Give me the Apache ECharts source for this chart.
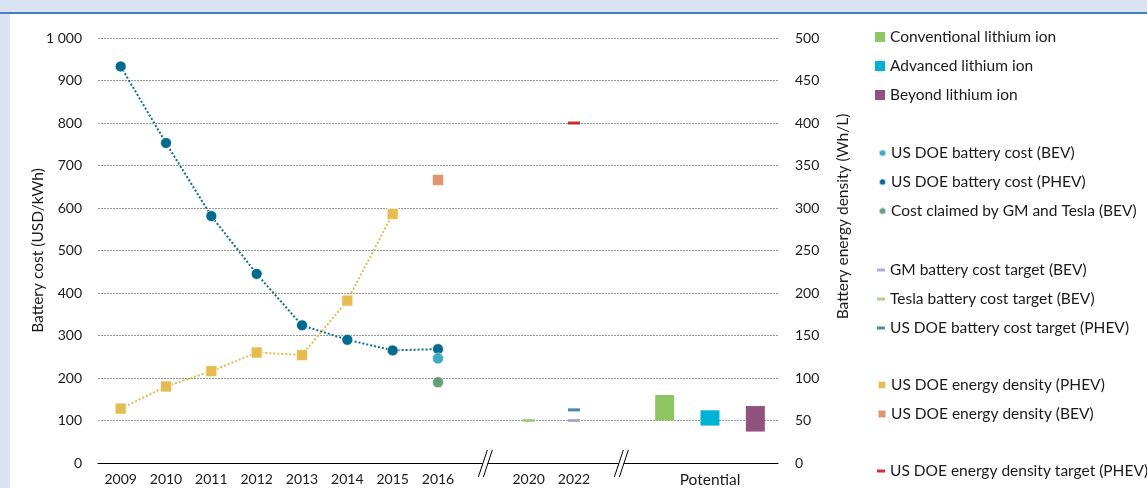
<!DOCTYPE html>
<html><head><meta charset="utf-8">
<script src="https://cdn.jsdelivr.net/npm/echarts@6/dist/echarts.min.js"></script>
<style>
html,body{margin:0;padding:0;background:#fff;width:1147px;height:488px;overflow:hidden;}
#topstrip{position:absolute;left:0;top:0;width:1147px;height:12px;background:#dae3f3;}
#topline{position:absolute;left:0;top:12px;width:1147px;height:2px;background:#4a7ebb;}
#leftstrip{position:absolute;left:0;top:14px;width:10px;height:474px;background:#dae3f3;}
#chart{position:absolute;left:0;top:0;width:1147px;height:488px;}
</style></head>
<body>
<div id="topstrip"></div><div id="topline"></div><div id="leftstrip"></div>
<div id="chart"></div>
<script>
// ---- data ----
const categories = ['2009','2010','2011','2012','2013','2014','2015','2016','','2020','2022','','','Potential',''];
const costPHEV = [933, 753, 581, 445, 324, 290, 265, 268];          // 2009..2016, USD/kWh
const costBEV = [['2016', 246]];
const costGMTesla = [['2016', 190]];
const targetGM = [['2022', 100]];
const targetTesla = [['2020', 100]];
const targetDOEPHEV = [['2022', 125]];
const densityPHEV = [64, 90, 108, 130, 127, 191, 293];               // 2009..2015, Wh/L
const densityBEV = [['2016', 333]];
const densityTarget = [['2022', 400]];
const potentialNames = ['Conventional lithium ion', 'Advanced lithium ion', 'Beyond lithium ion'];
const potentialIndex = [12, 13, 14];
const potentialLow = [100, 88, 74];
const potentialHigh = [160, 124, 134];
const breakIndex = [8, 11];
const leftTicks = { min: 0, max: 1000, interval: 100 };
const rightTicks = { min: 0, max: 500, interval: 50 };

// ---- build ----
const FONT = 'Lato';
const TXT = '#1a1a1a';
const TS = 15.5;   // text size for words
const NS = 14;     // text size for numbers
const potColors = ['#8dc663', '#00b2d4', '#915280'];

function fmtThousands(v) { return String(v).replace(/\B(?=(\d{3})+(?!\d))/g, ' '); }

const baseData = categories.map(() => '-');
potentialIndex.forEach((ci, k) => { baseData[ci] = potentialLow[k]; });
const potSeries = potentialNames.map((name, k) => {
  const d = categories.map(() => '-');
  d[potentialIndex[k]] = potentialHigh[k] - potentialLow[k];
  return { name, type: 'bar', stack: 'pot', barWidth: 19, data: d,
           itemStyle: { color: potColors[k] }, z: 3 };
});

const circleStyle = c => ({ color: c, borderColor: 'rgba(255,255,255,0.7)', borderWidth: 1 });

const series = [
  { name: 'base', type: 'bar', stack: 'pot', barWidth: 19, data: baseData,
    itemStyle: { color: 'transparent' }, silent: true },
  ...potSeries,
  { name: 'US DOE battery cost (PHEV)', type: 'line', data: costPHEV,
    symbol: 'circle', symbolSize: 11, itemStyle: circleStyle('#006a8f'),
    lineStyle: { color: '#0a6f93', width: 2, type: [2, 2] }, z: 5 },
  { name: 'US DOE battery cost (BEV)', type: 'scatter', data: costBEV,
    symbol: 'circle', symbolSize: 11, itemStyle: circleStyle('#0e96b0'), z: 6 },
  { name: 'Cost claimed by GM and Tesla (BEV)', type: 'scatter', data: costGMTesla,
    symbol: 'circle', symbolSize: 11, itemStyle: circleStyle('#3f8a53'), z: 6 },
  { name: 'GM battery cost target (BEV)', type: 'scatter', data: targetGM,
    symbol: 'rect', symbolSize: [12, 3], itemStyle: { color: '#9d98c9' }, z: 6 },
  { name: 'Tesla battery cost target (BEV)', type: 'scatter', data: targetTesla,
    symbol: 'rect', symbolSize: [12, 3], itemStyle: { color: '#8dcc6b' }, z: 6 },
  { name: 'US DOE battery cost target (PHEV)', type: 'scatter', data: targetDOEPHEV,
    symbol: 'rect', symbolSize: [12, 3], itemStyle: { color: '#1b6c91' }, z: 6 },
  { name: 'US DOE energy density (PHEV)', type: 'line', yAxisIndex: 1, data: densityPHEV,
    symbol: 'rect', symbolSize: 11, itemStyle: { color: '#e6bb4f', borderColor: 'rgba(255,255,255,0.7)', borderWidth: 1 },
    lineStyle: { color: '#e6bb4f', width: 2, type: [2, 2] }, z: 5 },
  { name: 'US DOE energy density (BEV)', type: 'scatter', yAxisIndex: 1, data: densityBEV,
    symbol: 'rect', symbolSize: 11, itemStyle: { color: '#d97b47', borderColor: 'rgba(255,255,255,0.7)', borderWidth: 1 }, z: 6 },
  { name: 'US DOE energy density target (PHEV)', type: 'scatter', yAxisIndex: 1, data: densityTarget,
    symbol: 'rect', symbolSize: [12, 3], itemStyle: { color: '#c00000' }, z: 6 },
  { name: 'axisBreak', type: 'custom', silent: true, clip: false, z: 10,
    data: breakIndex.map(i => [i, 0]), encode: { x: 0, y: 1 },
    renderItem: function (params, api) {
      const p = api.coord([api.value(0), api.value(1)]);
      const x = p[0] + 2, y = p[1];
      const a1 = [x - 7, y + 14], b1 = [x + 2, y - 13];
      const a2 = [x - 2, y + 14], b2 = [x + 7, y - 13];
      return { type: 'group', children: [
        { type: 'polygon', shape: { points: [a1, b1, b2, a2] }, style: { fill: '#fff' } },
        { type: 'line', shape: { x1: a1[0], y1: a1[1], x2: b1[0], y2: b1[1] }, style: { stroke: '#000', lineWidth: 1 } },
        { type: 'line', shape: { x1: a2[0], y1: a2[1], x2: b2[0], y2: b2[1] }, style: { stroke: '#000', lineWidth: 1 } }
      ]};
    } }
];

const legendText = { fontFamily: FONT, fontSize: TS, color: TXT, lineHeight: 16 };
function mkLegend(names, top, left, w, h, icon) {
  return { orient: 'vertical', left, top, padding: 0, itemWidth: w, itemHeight: h, itemGap: 13,
           icon, data: names, textStyle: legendText, selectedMode: false };
}

const option = {
  animation: false,
  backgroundColor: 'transparent',
  textStyle: { fontFamily: FONT },
  grid: { left: 98, right: 369, top: 38, bottom: 24, containLabel: false },
  legend: [
    mkLegend(potentialNames, 29, 875, 10, 10, 'rect'),
    mkLegend(['US DOE battery cost (BEV)', 'US DOE battery cost (PHEV)', 'Cost claimed by GM and Tesla (BEV)'], 145, 878, 7, 7, 'circle'),
    mkLegend(['GM battery cost target (BEV)', 'Tesla battery cost target (BEV)', 'US DOE battery cost target (PHEV)'], 262, 877, 8, 3, 'rect'),
    mkLegend(['US DOE energy density (PHEV)', 'US DOE energy density (BEV)'], 377, 877, 8, 8, 'rect'),
    mkLegend(['US DOE energy density target (PHEV)'], 463, 877, 8, 3, 'rect')
  ],
  xAxis: {
    type: 'category', data: categories, boundaryGap: true,
    axisLine: { lineStyle: { color: '#000', width: 1 } },
    axisTick: { show: false },
    axisLabel: { interval: 0, fontFamily: FONT, fontSize: NS, color: TXT, margin: 9,
      formatter: v => (/^\d+$/.test(v) || v === '') ? v : '{w|' + v + '}',
      rich: { w: { fontFamily: FONT, fontSize: TS, color: TXT } } }
  },
  yAxis: [
    { type: 'value', min: leftTicks.min, max: leftTicks.max, interval: leftTicks.interval,
      name: 'Battery cost (USD/kWh)', nameLocation: 'middle', nameRotate: 90, nameGap: 52,
      nameMoveOverlap: false,
      nameTextStyle: { fontFamily: FONT, fontSize: TS, color: TXT },
      axisLine: { show: false }, axisTick: { show: false },
      axisLabel: { fontFamily: FONT, fontSize: NS, color: TXT, margin: 16, formatter: fmtThousands },
      splitLine: { lineStyle: { color: '#999', width: 1, type: [2, 1] } } },
    { type: 'value', min: rightTicks.min, max: rightTicks.max, interval: rightTicks.interval,
      name: 'Battery energy density (Wh/L)', nameLocation: 'middle', nameRotate: 90, nameGap: 57,
      nameTextStyle: { fontFamily: FONT, fontSize: TS, color: TXT, padding: [0, 0, 0, 68] },
      axisLine: { show: false }, axisTick: { show: false },
      axisLabel: { fontFamily: FONT, fontSize: NS, color: TXT, margin: 17 },
      splitLine: { show: false } }
  ],
  series
};

const chart = echarts.init(document.getElementById('chart'), null, { renderer: 'canvas' });
chart.setOption(option);
</script>
</body></html>
